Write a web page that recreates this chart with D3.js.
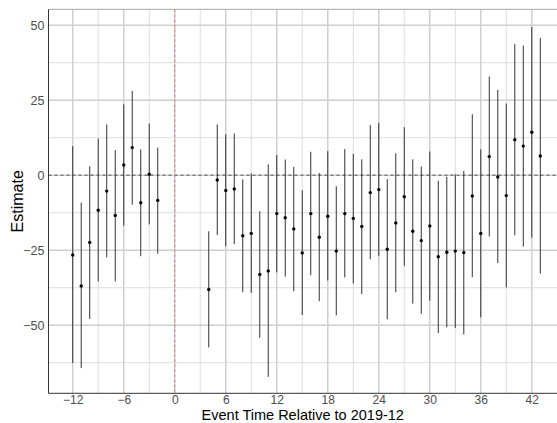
<!DOCTYPE html>
<html>
<head>
<meta charset="utf-8">
<script src="https://cdn.jsdelivr.net/npm/d3@7"></script>
<style>
  body { margin: 0; background: #fff; }
  text { font-family: "Liberation Sans", Arial, sans-serif; }
</style>
</head>
<body>
<div id="chart"></div>
<script>
// event time (months relative to 2019-12)
const times = [-12, -11, -10, -9, -8, -7, -6, -5, -4, -3, -2,
  4, 5, 6, 7, 8, 9, 10, 11, 12, 13, 14, 15, 16, 17, 18, 19, 20, 21, 22, 23,
  24, 25, 26, 27, 28, 29, 30, 31, 32, 33, 34, 35, 36, 37, 38, 39, 40, 41, 42, 43];
const estimates = [-26.6, -36.9, -22.4, -11.7, -5.3, -13.4, 3.4, 9.2, -9.2, 0.3, -8.4,
  -38.1, -1.6, -5.1, -4.6, -20.2, -19.4, -33.1, -31.9, -12.8, -14.2, -17.9, -25.9, -12.8, -20.7,
  -13.7, -25.3, -12.8, -14.4, -17.1, -5.8, -4.8, -24.7, -15.9, -7.2, -18.7, -21.8, -16.9, -27.2,
  -25.7, -25.3, -25.8, -6.9, -19.4, 6.2, -0.6, -6.8, 11.8, 9.7, 14.3, 6.4];
const lower = [-62.6, -64.3, -47.9, -35.4, -27.4, -35.4, -16.8, -9.8, -27.0, -16.4, -26.2,
  -57.4, -19.9, -23.7, -23.0, -39.0, -39.2, -54.2, -67.2, -32.4, -33.8, -38.7, -46.6, -33.3, -42.0,
  -35.1, -46.7, -34.1, -36.1, -39.6, -28.0, -27.0, -48.0, -39.0, -30.2, -42.8, -46.2, -41.8, -52.6,
  -50.7, -50.9, -53.1, -34.0, -47.4, -20.4, -29.3, -37.4, -20.0, -23.8, -20.8, -32.8];
const upper = [9.7, -9.1, 3.0, 12.2, 16.9, 8.4, 23.6, 28.1, 8.6, 17.2, 9.2,
  -18.7, 16.9, 13.6, 13.9, -1.4, 0.6, -12.0, 3.6, 6.7, 5.2, 2.8, -5.0, 7.8, 0.7,
  8.0, -3.7, 8.7, 7.1, 5.3, 16.7, 17.4, -1.3, 7.3, 16.0, 5.3, 2.9, 7.9, -1.8,
  -0.6, 0.3, 1.4, 20.3, 8.6, 32.9, 28.4, 23.9, 43.7, 43.2, 49.4, 45.7];
const xTicks = [-12, -6, 0, 6, 12, 18, 24, 30, 36, 42];
const xMinor = [-9, -3, 3, 9, 15, 21, 27, 33, 39];
const yTicks = [-50, -25, 0, 25, 50];
const yMinor = [-62.5, -37.5, -12.5, 12.5, 37.5];

const data = times.map((t, i) => ({ t: t, est: estimates[i], lo: lower[i], hi: upper[i] }));

const W = 557, H = 423;
const pLeft = 48.5, pRight = 557, pTop = 9.3, pBottom = 393.3;

const svg = d3.select("#chart").append("svg")
  .attr("width", W).attr("height", H);

const x = d3.scaleLinear().domain([-14.85, 45]).range([pLeft, pRight + 0.3]);
const y = d3.scaleLinear().domain([-72.7, 55.3]).range([pBottom, pTop]);

// grid
svg.append("g").selectAll("line").data(yMinor).enter().append("line")
  .attr("x1", pLeft).attr("x2", pRight)
  .attr("y1", d => y(d)).attr("y2", d => y(d))
  .style("stroke", "#d6d6d6").style("stroke-width", 0.8);
svg.append("g").selectAll("line").data(xMinor).enter().append("line")
  .attr("x1", d => x(d)).attr("x2", d => x(d))
  .attr("y1", pTop).attr("y2", pBottom)
  .style("stroke", "#d6d6d6").style("stroke-width", 0.8);
svg.append("g").selectAll("line").data(yTicks).enter().append("line")
  .attr("x1", pLeft).attr("x2", pRight)
  .attr("y1", d => y(d)).attr("y2", d => y(d))
  .style("stroke", "#cfcfcf").style("stroke-width", 1.5);
svg.append("g").selectAll("line").data(xTicks).enter().append("line")
  .attr("x1", d => x(d)).attr("x2", d => x(d))
  .attr("y1", pTop).attr("y2", pBottom)
  .style("stroke", "#cfcfcf").style("stroke-width", 1.5);

// top border
svg.append("line")
  .attr("x1", pLeft).attr("x2", pRight).attr("y1", pTop).attr("y2", pTop)
  .style("stroke", "#a8a8a8").style("stroke-width", 1);

// reference lines
svg.append("line")
  .attr("x1", pLeft).attr("x2", pRight).attr("y1", y(0)).attr("y2", y(0))
  .style("stroke", "#444").style("stroke-width", 0.9).style("stroke-dasharray", "3,3");
svg.append("line")
  .attr("x1", x(0)).attr("x2", x(0)).attr("y1", pTop).attr("y2", pBottom)
  .style("stroke", "#e07a7a").style("stroke-width", 0.9).style("stroke-dasharray", "3,2");

// error bars
svg.append("g").selectAll("line").data(data).enter().append("line")
  .attr("x1", d => x(d.t)).attr("x2", d => x(d.t))
  .attr("y1", d => y(d.lo)).attr("y2", d => y(d.hi))
  .style("stroke", "#333").style("stroke-width", 1);

// points
svg.append("g").selectAll("circle").data(data).enter().append("circle")
  .attr("cx", d => x(d.t)).attr("cy", d => y(d.est))
  .attr("r", 1.7)
  .style("fill", "#000");

// axes
const xAxis = svg.append("g")
  .attr("transform", `translate(0,${pBottom})`)
  .call(d3.axisBottom(x).tickValues(xTicks).tickSize(0).tickPadding(2));
const yAxis = svg.append("g")
  .attr("transform", `translate(${pLeft},0)`)
  .call(d3.axisLeft(y).tickValues(yTicks).tickSize(0).tickPadding(4));
[xAxis, yAxis].forEach(a => {
  a.select(".domain").style("stroke", "#333").style("stroke-width", 1);
  a.selectAll("text").style("font-size", "12.5px").style("fill", "#4d4d4d")
    .style("font-family", "Liberation Sans, Arial, sans-serif");
});
xAxis.selectAll("text").style("font-size", "12px");
xAxis.select(".domain").attr("d", `M${pLeft},0H${pRight}`);
yAxis.select(".domain").attr("d", `M0,${pBottom}V${pTop}`);

// axis titles
svg.append("text")
  .attr("x", (pLeft + pRight) / 2).attr("y", 419.8)
  .attr("text-anchor", "middle")
  .style("font-size", "14.5px").style("fill", "#000")
  .text("Event Time Relative to 2019-12");
svg.append("text")
  .attr("transform", `translate(23,${(pTop + pBottom) / 2}) rotate(-90)`)
  .attr("text-anchor", "middle")
  .style("font-size", "16px").style("fill", "#000")
  .text("Estimate");
</script>
</body>
</html>
